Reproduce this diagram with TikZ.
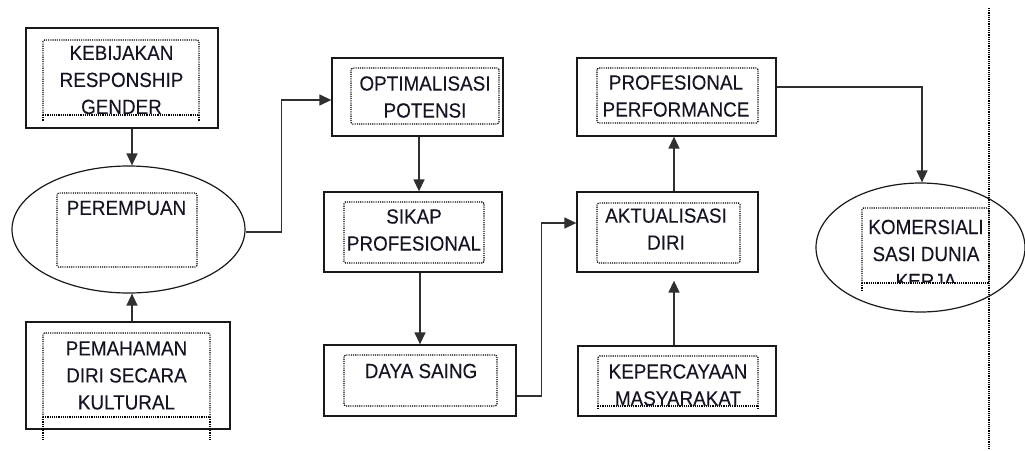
\documentclass[tikz,border=0pt]{standalone}
\usepackage{fontspec}
\usetikzlibrary{arrows.meta,shapes.geometric}
\newfontfamily\lblfont[FakeStretch=0.92,FakeBold=0.15]{Liberation Sans}
\definecolor{txt}{RGB}{20,20,35}
\definecolor{ln}{RGB}{25,25,25}
\tikzset{
  boxnode/.style={draw=ln, line width=1.3pt, rectangle, inner sep=0pt},
  ellnode/.style={draw=ln, line width=1.2pt, ellipse, inner sep=0pt},
  dotbox/.style={draw=black, line width=1.2pt, dash pattern=on 1.1pt off 1.1pt, rounded corners=1.5pt},
  dotline/.style={draw=black, line width=1.2pt, dash pattern=on 1.1pt off 1.1pt},
  lbl/.style={text=txt, align=center, inner sep=0pt, font=\lblfont\fontsize{20.5}{27}\selectfont},
  arr/.style={draw=ln!90, line width=1.4pt, -{Triangle[width=11pt,length=12pt]}},
  con/.style={draw=ln!90, line width=1.4pt}
}
\begin{document}
\begin{tikzpicture}[x=1pt,y=-1pt]
\useasboundingbox (0,0) rectangle (1025,450);
% outer boxes
\node[boxnode, minimum width=192, minimum height=100] (keb) at (122,78) {};
\node[boxnode, minimum width=204, minimum height=107] (pem) at (128,375.5) {};
\node[ellnode, minimum width=233, minimum height=127] (per) at (128.5,229.5) {};
\node[boxnode, minimum width=171, minimum height=78] (opt) at (417.5,97) {};
\node[boxnode, minimum width=178, minimum height=80] (sik) at (413,232) {};
\node[boxnode, minimum width=192, minimum height=71] (day) at (420,380.5) {};
\node[boxnode, minimum width=199, minimum height=78] (perf) at (676.5,97) {};
\node[boxnode, minimum width=181, minimum height=80] (akt) at (667.5,232) {};
\node[boxnode, minimum width=198, minimum height=70] (kep) at (677,381) {};
\node[ellnode, minimum width=209, minimum height=129] (kom) at (920.5,247.5) {};
% dotted inner boxes
\draw[dotbox] (43,115) -- (43,40) -- (199,40) -- (199,115);
\draw[dotline] (43,115) -- (199,115);
\draw[dotline] (43,115) -- (43,121) (199,115) -- (199,121);
\draw[dotbox] (57,193) rectangle (197,267);
\draw[dotbox] (43,417) -- (43,333) -- (210,333) -- (210,417);
\draw[dotline] (43,417) -- (210,417);
\draw[dotline] (43,417) -- (43,440) (210,417) -- (210,440);
\draw[dotbox] (351,68) rectangle (499,124);
\draw[dotbox] (344,202) rectangle (484,263);
\draw[dotbox] (344,355) rectangle (497,406);
\draw[dotbox] (597,68) rectangle (758,123);
\draw[dotbox] (597,203) rectangle (740,263);
\draw[dotbox] (598,406) -- (598,356) -- (758,356) -- (758,406);
\draw[dotline] (598,406) -- (758,406);
\draw[dotline] (598,406) -- (598,410) (758,406) -- (758,410);
\draw[dotbox] (862,283) -- (862,208) -- (989,208) -- (989,283);
\draw[dotline] (862,283) -- (989,283);
\draw[dotline] (862,283) -- (862,290);
% vertical dotted line
\coordinate (vtop) at (989,8);
\coordinate (vbot) at (989,450);
\draw[dotline] (vtop) -- (vbot);
% texts
\begin{scope}
\clip (30,30) rectangle (215,114.5);
\node[lbl] (tkeb) at (121.5,80) {KEBIJAKAN\\RESPONSHIP\\GENDER};
\end{scope}
\node[lbl] (tper) at (126.5,208) {PEREMPUAN};
\node[lbl] (tpem) at (126.5,375.5) {PEMAHAMAN\\DIRI SECARA\\KULTURAL};
\node[lbl] (topt) at (425,97) {OPTIMALISASI\\POTENSI};
\node[lbl] (tsik) at (414,230) {SIKAP\\PROFESIONAL};
\node[lbl] (tday) at (421,371) {DAYA SAING};
\node[lbl] (tperf) at (676,96) {PROFESIONAL\\PERFORMANCE};
\node[lbl] (takt) at (666,229) {AKTUALISASI\\DIRI};
\begin{scope}
\clip (590,350) rectangle (770,405.5);
\node[lbl] (tkep) at (678,385) {KEPERCAYAAN\\MASYARAKAT};
\end{scope}
\begin{scope}
\clip (850,200) rectangle (1000,282.5);
\node[lbl] (tkom) at (926,254) {KOMERSIALI\\SASI DUNIA\\KERJA};
\end{scope}
% connectors
\draw[arr] ([xshift=3.5pt]per.north |- keb.south) -- ([xshift=3.5pt]per.north);
\draw[arr] ([xshift=3.5pt]per.south |- pem.north) -- ([xshift=3.5pt]per.south);
\draw[con] ([yshift=-2.5pt]per.east) -- ++(36,0) coordinate (c1);
\draw[arr] (c1) |- ([yshift=-3pt]opt.west);
\draw[arr] ([xshift=1.5pt]opt.south) -- ([xshift=1.5pt]opt.south |- sik.north);
\draw[arr] (day.north |- sik.south) -- (day.north);
\draw[con] ([yshift=-15.5pt]day.east) -- ++(25,0) coordinate (c2);
\draw[arr] (c2) |- ([yshift=9pt]akt.west);
\draw[arr] ([xshift=-3pt]kep.north) -- ([xshift=-3pt]kep.north |- akt.south) [shorten >=8pt];
\draw[arr] ([xshift=-2.5pt]perf.south |- akt.north) -- ([xshift=-2.5pt]perf.south);
\draw[arr] ([yshift=10pt]perf.east) -| ([xshift=1.5pt]kom.north);
\end{tikzpicture}
\end{document}
